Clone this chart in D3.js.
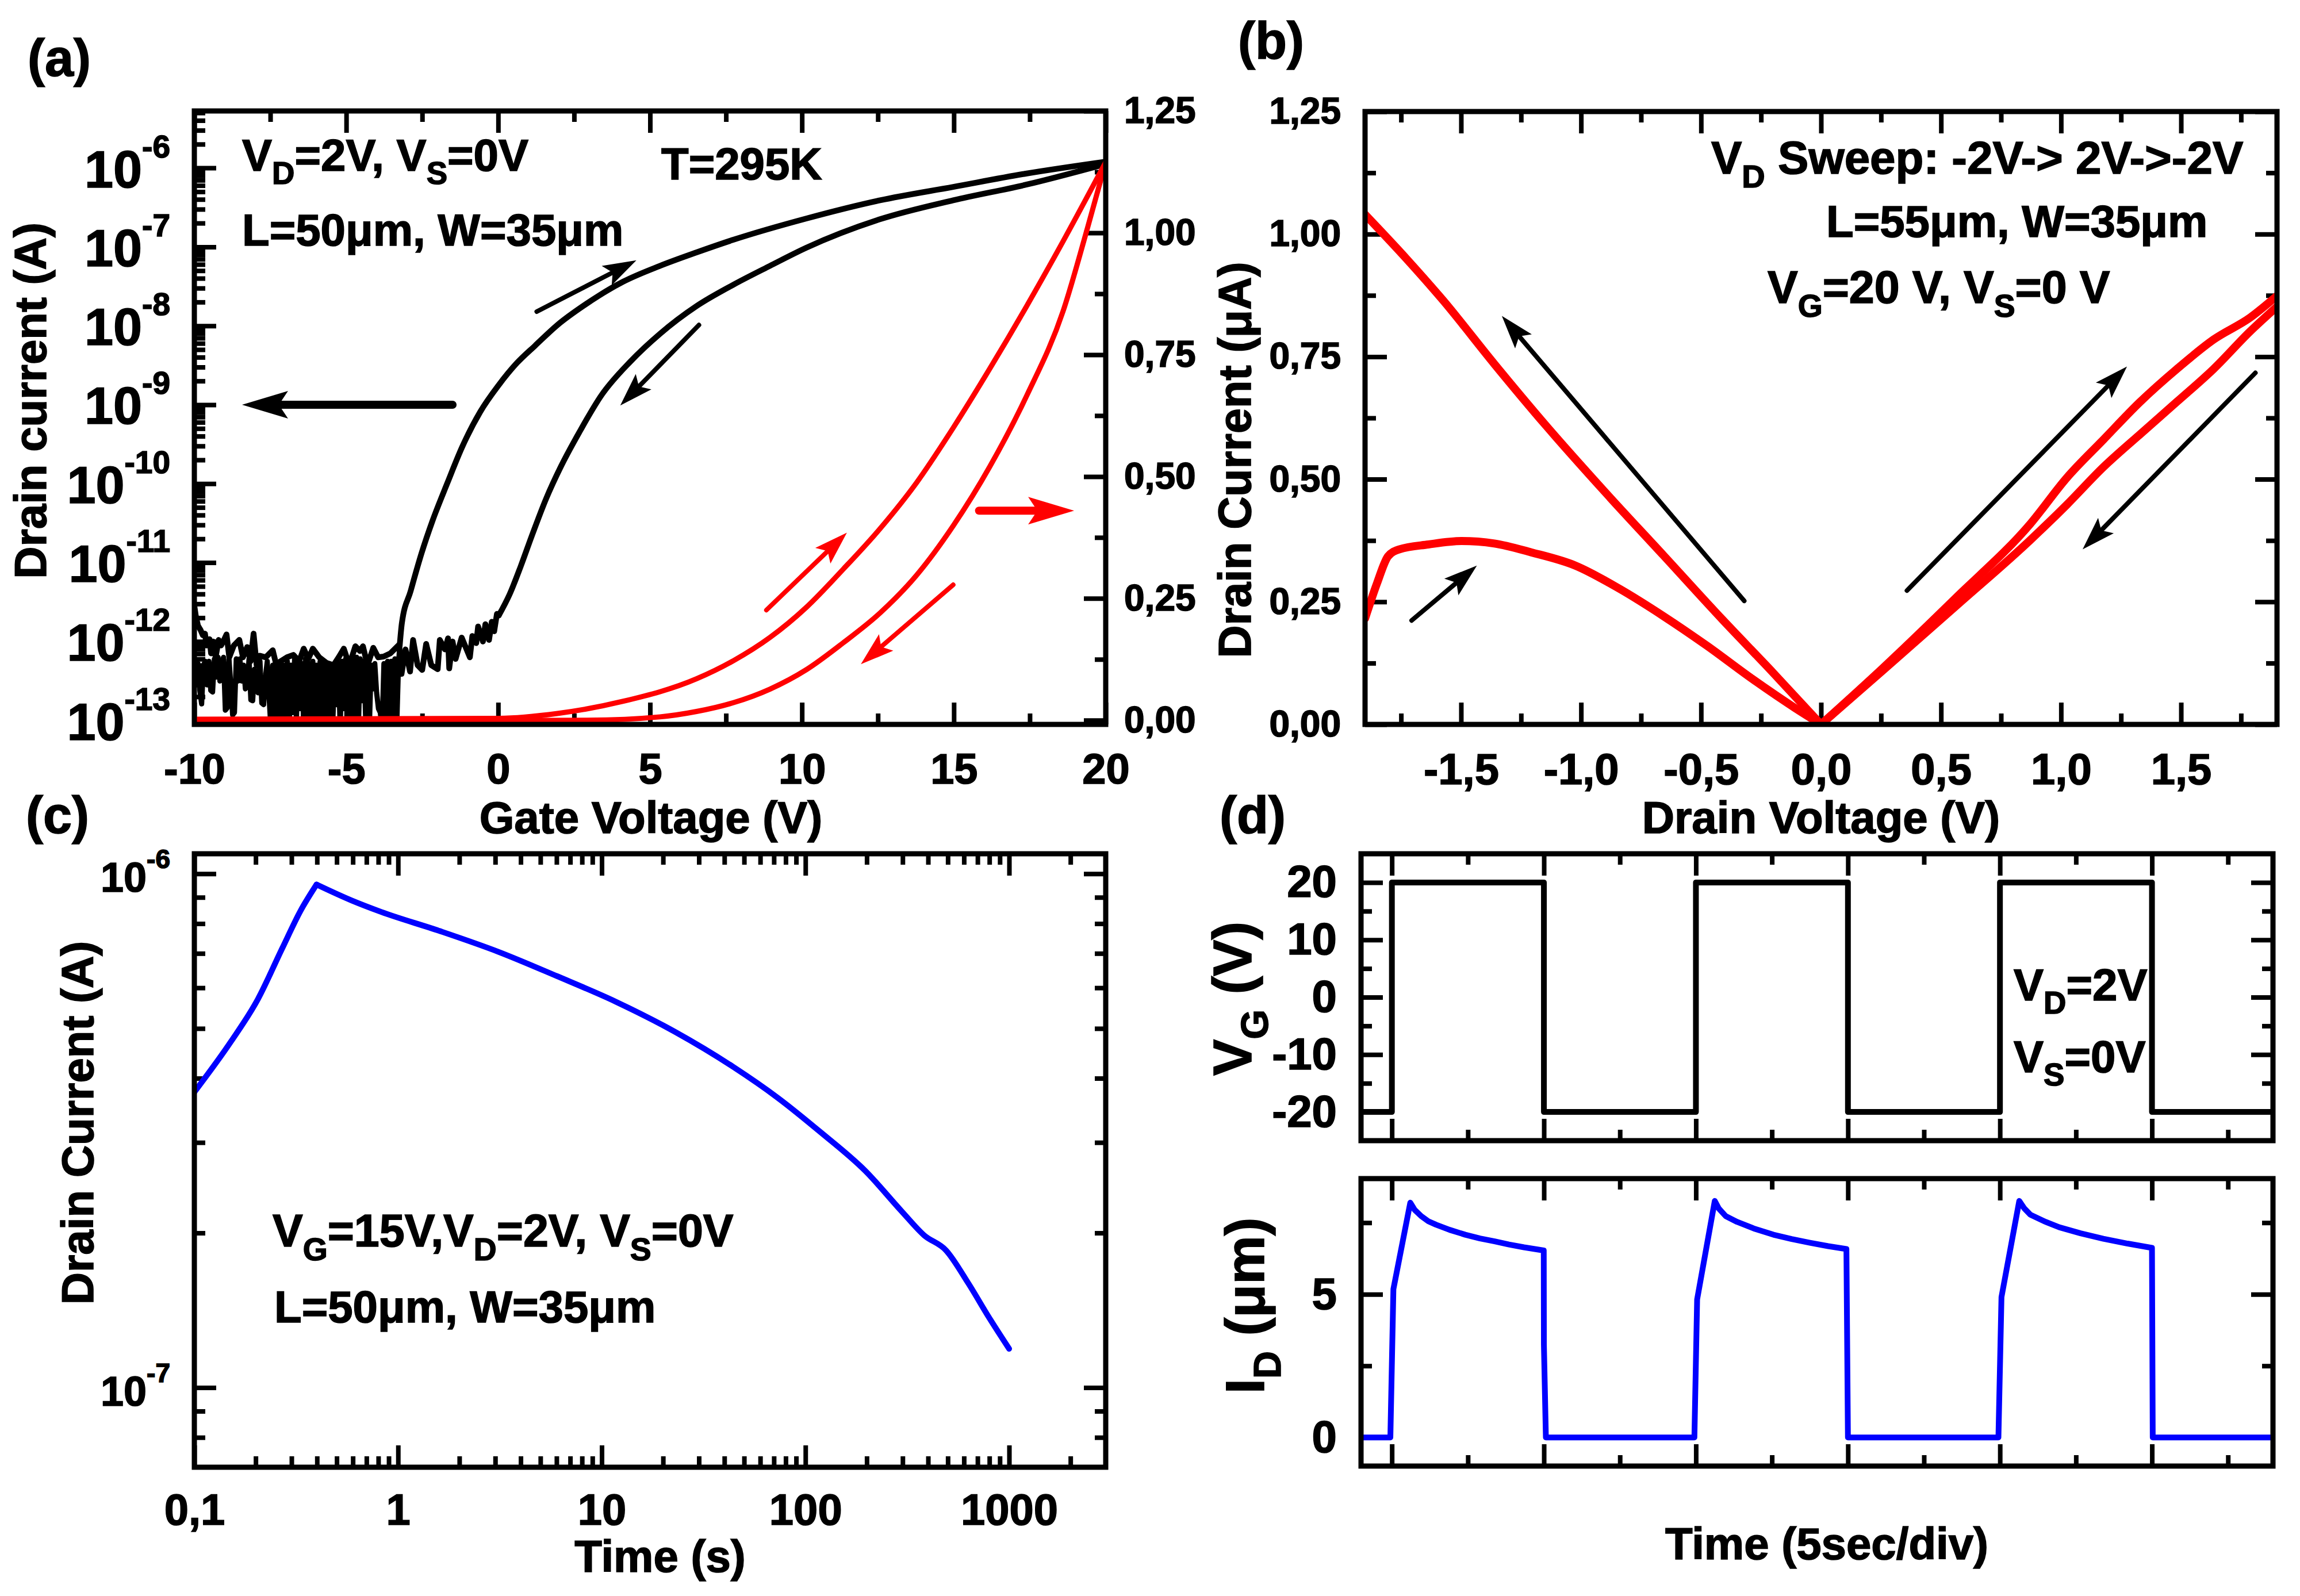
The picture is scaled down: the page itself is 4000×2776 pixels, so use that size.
<!DOCTYPE html>
<html>
<head>
<meta charset="utf-8">
<script src="https://cdn.jsdelivr.net/npm/d3@7"></script>
<style>
  html, body { margin: 0; padding: 0; background: #fff; }
  svg text { font-family: "Liberation Sans", Arial, sans-serif; font-weight: bold; fill: #000; stroke: #000; stroke-width: 1.6; }
</style>
</head>
<body>
<svg id="chart" width="4000" height="2776"></svg>
<script>
// (a) black curves: [gate voltage, log10 of drain current]
const aBlackUp = [[-3.24,-12.05],[-3.17,-11.77],[-2.88,-11.36],[-2.52,-10.88],[-2.16,-10.47],[-1.67,-9.99],[-1.19,-9.54],[-0.59,-9.09],[0.02,-8.75],[0.62,-8.47],[1.22,-8.25],[1.95,-7.99],[2.91,-7.72],[4.12,-7.44],[5.33,-7.24],[6.53,-7.07],[7.74,-6.91],[10.15,-6.64],[12.57,-6.41],[14.98,-6.24],[17.4,-6.07],[20,-5.92]];
const aBlackDown = [[0.02,-11.67],[0.38,-11.40],[0.74,-11.05],[1.1,-10.67],[1.58,-10.19],[2.07,-9.78],[2.67,-9.35],[3.4,-8.88],[4.36,-8.45],[5.33,-8.10],[6.53,-7.75],[7.74,-7.48],[8.95,-7.24],[10.15,-7.01],[12.57,-6.65],[14.98,-6.41],[17.4,-6.21],[20,-5.95]];
// noisy off-current, return sweep
const aNoiseReturn = [[-10,-11.55],[-9.95,-11.68],[-9.88,-11.8],[-9.8,-11.85],[-9.72,-11.92],[-9.65,-11.9],[-9.6,-12.05],[-9.5,-11.97],[-9.45,-12.15],[-9.38,-12.0],[-9.3,-12.2],[-9.2,-11.98],[-9.12,-12.05],[-9.05,-12.0],[-8.94,-11.91],[-8.85,-12.2],[-8.7,-12.05],[-8.52,-11.98],[-8.4,-12.2],[-8.26,-12.07],[-8.15,-12.25],[-8.05,-11.9],[-7.95,-12.3],[-7.84,-12.18],[-7.65,-12.2],[-7.42,-12.11],[-7.3,-12.3],[-7.16,-12.25],[-6.95,-12.2],[-6.74,-12.17],[-6.55,-12.25],[-6.4,-12.09],[-6.25,-12.22],[-6.1,-12.09],[-5.89,-12.2],[-5.65,-12.27],[-5.42,-12.3],[-5.25,-12.2],[-5.08,-12.09],[-4.9,-12.3],[-4.7,-12.06],[-4.55,-12.12],[-4.45,-12.06],[-4.3,-12.3],[-4.11,-12.08],[-3.95,-12.2],[-3.77,-12.19],[-3.55,-12.15],[-3.26,-12.04],[-3.18,-12.41],[-3.05,-12.1],[-2.9,-12.38],[-2.8,-11.98],[-2.65,-12.3],[-2.5,-12.36],[-2.37,-12.03],[-2.2,-12.3],[-1.99,-12.35],[-1.92,-11.98],[-1.75,-12.1],[-1.65,-11.96],[-1.61,-12.34],[-1.5,-12.0],[-1.4,-12.22],[-1.2,-11.95],[-0.93,-12.2],[-0.85,-11.93],[-0.72,-12.02],[-0.66,-11.81],[-0.5,-12.0],[-0.42,-11.78],[-0.3,-11.98],[-0.21,-11.75],[-0.13,-11.87],[-0.04,-11.65],[0.02,-11.67]];
// noisy off-current, forward sweep
const aNoiseForward = [[-10,-12.30],[-9.94,-12.55],[-9.88,-12.28],[-9.82,-12.62],[-9.76,-12.79],[-9.7,-12.3],[-9.64,-12.25],[-9.58,-12.55],[-9.52,-12.25],[-9.46,-12.62],[-9.4,-12.64],[-9.34,-12.22],[-9.28,-12.45],[-9.22,-12.2],[-9.16,-12.5],[-9.1,-12.3],[-9.04,-12.2],[-8.98,-12.87],[-8.92,-12.84],[-8.86,-12.22],[-8.8,-12.55],[-8.74,-12.93],[-8.68,-12.9],[-8.62,-12.22],[-8.56,-12.5],[-8.5,-12.22],[-8.44,-12.5],[-8.38,-12.3],[-8.32,-12.6],[-8.26,-12.55],[-8.2,-12.22],[-8.14,-12.74],[-8.08,-12.75],[-8.02,-12.35],[-7.96,-12.6],[-7.9,-12.65],[-7.84,-12.25],[-7.78,-12.78],[-7.72,-12.8],[-7.66,-12.45],[-7.6,-12.25],[-7.54,-12.7],[-7.48,-13.1],[-7.42,-12.3],[-7.36,-13.1],[-7.3,-12.28],[-7.24,-13.1],[-7.18,-12.25],[-7.12,-13.1],[-7.06,-12.3],[-7.0,-13.0],[-6.94,-12.25],[-6.88,-13.1],[-6.82,-12.3],[-6.76,-12.9],[-6.7,-12.22],[-6.64,-13.0],[-6.58,-12.25],[-6.52,-12.85],[-6.46,-12.28],[-6.4,-13.1],[-6.34,-12.22],[-6.28,-13.1],[-6.22,-12.28],[-6.16,-13.1],[-6.1,-12.25],[-6.04,-13.05],[-5.98,-12.3],[-5.92,-13.1],[-5.86,-12.25],[-5.8,-13.1],[-5.74,-12.3],[-5.68,-13.1],[-5.62,-12.33],[-5.56,-13.1],[-5.5,-12.32],[-5.44,-13.0],[-5.38,-12.33],[-5.32,-12.8],[-5.26,-12.28],[-5.2,-13.1],[-5.14,-12.25],[-5.08,-12.85],[-5.02,-12.22],[-4.96,-13.1],[-4.9,-12.25],[-4.84,-13.1],[-4.78,-12.22],[-4.72,-13.1],[-4.66,-12.2],[-4.6,-13.1],[-4.54,-12.22],[-4.48,-12.75],[-4.42,-12.25],[-4.36,-13.0],[-4.3,-12.25],[-4.24,-13.1],[-4.18,-12.3],[-4.12,-12.6],[-4.06,-12.28],[-4.0,-12.65],[-3.94,-12.85],[-3.88,-12.9],[-3.82,-13.1],[-3.76,-12.28],[-3.7,-13.1],[-3.64,-12.25],[-3.58,-13.1],[-3.52,-12.25],[-3.46,-13.1],[-3.4,-12.22],[-3.34,-13.1],[-3.28,-12.3],[-3.24,-12.05]];
// (a) red curves: [gate voltage, drain current in uA]
const aRedUp = [[-10,0.002],[0.02,0.004],[1.95,0.014],[4.12,0.039],[6.53,0.085],[7.74,0.122],[8.95,0.170],[10.15,0.232],[11.36,0.31],[12.57,0.393],[13.78,0.488],[14.98,0.60],[16.19,0.722],[17.4,0.85],[18.6,0.983],[20,1.145]];
const aRedDown = [[-10,-0.003],[2.91,0.0],[5.33,0.007],[6.53,0.018],[7.74,0.036],[8.95,0.064],[10.15,0.104],[11.36,0.159],[12.57,0.22],[13.78,0.298],[14.98,0.399],[16.19,0.521],[17.4,0.666],[18.6,0.84],[19.4,1.01],[20,1.145]];
const aExponents = [-6,-7,-8,-9,-10,-11,-12,-13];

// (b) hysteresis branches: [drain voltage, drain current in uA]
const bNegOut = [[-1.9,0.216],[-1.85,0.288],[-1.804,0.343],[-1.758,0.357],[-1.636,0.367],[-1.498,0.374],[-1.361,0.369],[-1.208,0.351],[-1.024,0.324],[-0.841,0.277],[-0.657,0.221],[-0.474,0.160],[-0.29,0.094],[-0.107,0.033],[0,0]];
const bNegBack = [[-1.9,1.04],[-1.728,0.95],[-1.575,0.865],[-1.361,0.735],[-1.147,0.61],[-0.902,0.475],[-0.657,0.345],[-0.413,0.215],[-0.199,0.105],[0,0]];
const bPosUp = [[0,0],[0.26,0.116],[0.566,0.26],[0.872,0.409],[1.024,0.503],[1.177,0.581],[1.33,0.658],[1.483,0.725],[1.636,0.785],[1.789,0.83],[1.9,0.874]];
const bPosDown = [[0,0],[0.26,0.111],[0.566,0.243],[0.872,0.376],[1.024,0.448],[1.177,0.525],[1.33,0.592],[1.483,0.658],[1.636,0.725],[1.789,0.802],[1.9,0.852]];

// (c) decay curve, split at the peak
const cRiseTime = [0.1,0.151,0.205,0.27,0.332,0.398];
const cRiseCurrent = [3.76e-7,4.71e-7,5.70e-7,7.16e-7,8.47e-7,9.53e-7];
const cFallTime = [0.398,0.593,0.826,1.6,3.11,6.04,11.7,22.8,44.2,72.8,120,197,298,382,490,628,805,1000];
const cFallCurrent = [9.53e-7,8.87e-7,8.43e-7,7.74e-7,7.05e-7,6.32e-7,5.64e-7,4.93e-7,4.21e-7,3.67e-7,3.13e-7,2.64e-7,2.2e-7,1.98e-7,1.85e-7,1.60e-7,1.36e-7,1.19e-7];
const cTickValues = [0.1,1,10,100,1000];
const cTickLabels = ["0,1","1","10","100","1000"];

// (d) gate pulses and drain current response
const dGateTime = [-2.03,0,0,10,10,20,20,30,30,40,40,50,50,57.96];
const dGateVolt = [-20,-20,20,20,-20,-20,20,20,-20,-20,20,20,-20,-20];
const dDrainTime = [-2.03,-0.1,0.1,1.21,1.5,1.93,2.4,2.9,3.8,4.83,5.8,6.76,7.7,8.69,9.99,10,10.13,19.9,20.08,21.24,21.5,21.96,22.7,23.8,25.1,26.3,27.5,28.7,29.9,30,30.1,39.9,40.1,41.27,41.6,42,43,43.9,45.3,46.8,48.4,50,50.05,57.96];
const dDrainCurr = [0,0,5.18,8.2,7.95,7.73,7.55,7.43,7.25,7.08,6.95,6.85,6.74,6.64,6.53,3.24,0,0,4.82,8.26,8.0,7.73,7.53,7.3,7.08,6.93,6.8,6.68,6.58,0,0,0,4.9,8.26,8.0,7.78,7.53,7.34,7.13,6.94,6.77,6.62,0,0];

// annotation arrows in data units: [x0, y0, x1, y1]
const aArrowsLog = [[1.27,-7.82,4.55,-7.17],[6.61,-7.99,4.02,-9.01]];
const aArrowBig = [-1.5,-9.0,-8.43,-9.0];
const aArrowsRed = [[8.83,0.226,11.48,0.385],[14.98,0.278,11.94,0.115]];
const aArrowRedBig = [15.83,0.43,18.96,0.43];
const bArrows = [[-0.32,0.252,-1.33,0.833],[0.358,0.273,1.275,0.73],[1.81,0.717,1.09,0.357],[-1.706,0.212,-1.434,0.324]];

const svg = d3.select("#chart");
svg.append("rect").attr("width", 4000).attr("height", 2776).attr("fill", "#fff");

const MAJOR = 38, MINOR = 19, AXIS_W = 8;
const commaTick = v => d3.format(".2f")(v).replace(".", ",");
const oneDec = v => d3.format(".1f")(v).replace(".", ",").replace("\u2212", "-");
const range = (a, b, s) => d3.range(a, b + s / 2, s);
const logMinors = (from, to) => {
  const out = [];
  for (let e = from; e < to; e++) for (let m = 2; m < 10; m++) out.push(m * Math.pow(10, e));
  return out;
};

// draws major + minor inward ticks on one side, labels only when fmt is given
function ticks(side, x, y, major, minor, fmt, size, pad) {
  const scale = (side === "left" || side === "right") ? y : x;
  const gen = { left: d3.axisLeft, right: d3.axisRight, top: d3.axisTop, bottom: d3.axisBottom }[side];
  const pos = {
    left: [x.range()[0], 0], right: [x.range()[1], 0],
    top: [0, y.range()[1]], bottom: [0, y.range()[0]]
  }[side];
  const g = svg.append("g").attr("transform", `translate(${pos[0]},${pos[1]})`);

  g.append("g").call(gen(scale).tickValues(minor).tickSize(-MINOR).tickSizeOuter(0).tickFormat(""));
  const majorG = g.append("g").call(gen(scale).tickValues(major).tickSize(-MAJOR).tickSizeOuter(0)
    .tickPadding(pad || 0).tickFormat(fmt || ""));
  g.selectAll(".domain").remove();
  g.selectAll("line").attr("stroke", "#000").attr("stroke-width", AXIS_W);
  if (fmt) majorG.selectAll("text").attr("font-size", size).attr("fill", "#000");
  return majorG;
}

function frame(x, y) {
  svg.append("rect")
    .attr("x", x.range()[0]).attr("y", y.range()[1])
    .attr("width", x.range()[1] - x.range()[0]).attr("height", y.range()[0] - y.range()[1])
    .attr("fill", "none").attr("stroke", "#000").attr("stroke-width", 9);
}

let clipId = 0;
function clipFor(x, y) {
  const id = "clip" + (clipId++);
  svg.append("clipPath").attr("id", id).append("rect")
    .attr("x", x.range()[0]).attr("y", y.range()[1])
    .attr("width", x.range()[1] - x.range()[0]).attr("height", y.range()[0] - y.range()[1]);
  return `url(#${id})`;
}

function curve(data, x, y, color, width, clip, shape) {
  svg.append("path").datum(data)
    .attr("fill", "none").attr("stroke", color).attr("stroke-width", width)
    .attr("stroke-linejoin", "round").attr("stroke-linecap", "round")
    .attr("clip-path", clip)
    .attr("d", d3.line().x(d => x(d[0])).y(d => y(d[1])).curve(shape || d3.curveLinear));
}

// text with _X single letter subscripts
function label(str, px, py, size, opts) {
  const o = opts || {};
  const t = svg.append("text").attr("font-size", size)
    .attr("text-anchor", o.anchor || "start")
    .attr("transform", `translate(${px},${py})${o.rotate ? " rotate(-90)" : ""}`);
  const subSize = size * 0.7, drop = size * 0.3;
  let pendingDy = 0;
  str.split(/(_.)/).forEach(part => {
    if (!part) return;
    if (part[0] === "_") {
      t.append("tspan").attr("font-size", subSize).attr("dy", drop).text(part[1]);
      pendingDy = -drop;
    } else {
      t.append("tspan").attr("dy", pendingDy).text(part);
      pendingDy = 0;
    }
  });
  return t;
}

function arrow(a, x, y, color, width, headLen, headW) {
  const x0 = x(a[0]), y0 = y(a[1]), x1 = x(a[2]), y1 = y(a[3]);
  const ang = Math.atan2(y1 - y0, x1 - x0);
  const ux = Math.cos(ang), uy = Math.sin(ang);
  const bx = x1 - ux * headLen, by = y1 - uy * headLen;
  const nx = x1 - ux * headLen * 0.8, ny = y1 - uy * headLen * 0.8;
  svg.append("line").attr("x1", x0).attr("y1", y0).attr("x2", nx).attr("y2", ny)
    .attr("stroke", color).attr("stroke-width", width).attr("stroke-linecap", "round");
  svg.append("path")
    .attr("d", `M${x1},${y1}L${bx - uy * headW / 2},${by + ux * headW / 2}L${nx},${ny}L${bx + uy * headW / 2},${by - ux * headW / 2}Z`)
    .attr("fill", color);
}

// exponent tick labels (10 with a raised power)
function powerLabels(g, exps, size, supSize, rise, drop) {
  g.selectAll(".tick text").each(function (d, i) {
    const t = d3.select(this).text(null).attr("font-size", size).attr("dy", drop);
    t.append("tspan").text("10");
    t.append("tspan").attr("font-size", supSize).attr("dy", -rise).text(exps[i]);
  });
}

const smooth = d3.curveMonotoneX;

// ---------- panel (a) ----------
{
  const x = d3.scaleLinear().domain([-10, 20]).range([338, 1923]);
  const yLog = d3.scaleLinear().domain([-13.05, -5.278]).range([1260, 193]);
  const yPow = d3.scaleLog().domain([Math.pow(10, -13.05), Math.pow(10, -5.278)]).range([1260, 193]);
  const yLin = d3.scaleLinear().domain([-0.0085, 1.25]).range([1260, 193]);
  const clip = clipFor(x, yLog);

  const xMinor = range(-7.5, 17.5, 5);
  ticks("bottom", x, yLog, range(-10, 20, 5), xMinor, d => d, 74, 50);
  ticks("top", x, yLog, range(-10, 20, 5), xMinor);
  const exps = aExponents.map(e => Math.pow(10, e));
  const left = ticks("left", x, yPow, exps, logMinors(-13, -5).filter(v => v < Math.pow(10, -5.278)), d => d, 90, 42);
  powerLabels(left, aExponents, 90, 55, 52, 33);
  ticks("right", x, yLin, range(0, 1.25, 0.25), range(0.125, 1.125, 0.25), commaTick, 64, 32);

  curve(aNoiseForward, x, yLog, "#000", 9, clip);
  curve(aNoiseReturn, x, yLog, "#000", 10, clip);
  curve(aBlackUp, x, yLog, "#000", 10, clip, smooth);
  curve(aBlackDown, x, yLog, "#000", 10, clip, smooth);
  curve(aRedUp, x, yLin, "#f00", 9, clip, smooth);
  curve(aRedDown, x, yLin, "#f00", 9, clip, smooth);
  frame(x, yLog);

  aArrowsLog.forEach(a => arrow(a, x, yLog, "#000", 8, 58, 38));
  arrow(aArrowBig, x, yLog, "#000", 14, 80, 48);
  aArrowsRed.forEach(a => arrow(a, x, yLin, "#f00", 8, 58, 38));
  arrow(aArrowRedBig, x, yLin, "#f00", 14, 80, 48);

  label("V_D=2V, V_S=0V", 421, 297, 78);
  label("T=295K", 1150, 312, 78);
  label("L=50\u03BCm, W=35\u03BCm", 421, 427, 78);
  label("Drain current (A)", 80, 697, 78, { rotate: true, anchor: "middle" });
  label("Gate Voltage (V)", 1132, 1449, 78, { anchor: "middle" });
  label("(a)", 48, 132, 90);
  label("(c)", 45, 1449, 90);
}

// ---------- panel (b) ----------
{
  const x = d3.scaleLinear().domain([-1.9, 1.9]).range([2374, 3960]);
  const y = d3.scaleLinear().domain([0, 1.25]).range([1260, 194]);
  const clip = clipFor(x, y);

  const xMajor = range(-1.5, 1.5, 0.5), xMinor = range(-1.75, 1.75, 0.5);
  ticks("bottom", x, y, xMajor, xMinor, oneDec, 76, 50);
  ticks("top", x, y, xMajor, xMinor);
  ticks("left", x, y, range(0, 1.25, 0.25), range(0.125, 1.125, 0.25), commaTick, 64, 42);
  ticks("right", x, y, range(0, 1.25, 0.25), range(0.125, 1.125, 0.25));

  [bNegOut, bNegBack, bPosUp, bPosDown].forEach(c => curve(c, x, y, "#f00", 14, clip, smooth));
  frame(x, y);

  bArrows.forEach(a => arrow(a, x, y, "#000", 8, 58, 38));

  label("V_D Sweep: -2V-> 2V->-2V", 2976, 302, 80);
  label("L=55\u03BCm, W=35\u03BCm", 3176, 412, 78);
  label("V_G=20 V, V_S=0 V", 3074, 527, 79);
  label("Drain Current (\u03BCA)", 2175, 800, 79, { rotate: true, anchor: "middle" });
  label("Drain Voltage (V)", 3167, 1449, 78, { anchor: "middle" });
  label("(b)", 2153, 102, 90);
  label("(d)", 2121, 1449, 90);
}

// ---------- panel (c) ----------
{
  const x = d3.scaleLog().domain([0.1, 2980]).range([338, 1923]);
  const y = d3.scaleLog().domain([7.0e-8, 1.094e-6]).range([2552, 1485]);
  const clip = clipFor(x, y);

  const xMinor = logMinors(-1, 3).concat([2000]);
  const bottom = ticks("bottom", x, y, cTickValues, xMinor, d => d, 76, 46);
  bottom.selectAll(".tick text").text((d, i) => cTickLabels[i]);
  ticks("top", x, y, cTickValues, xMinor);
  const yMajor = [1e-6, 1e-7];
  const yMinor = [9e-7, 8e-7, 7e-7, 6e-7, 5e-7, 4e-7, 3e-7, 2e-7, 9e-8, 8e-8];
  const left = ticks("left", x, y, yMajor, yMinor, d => d, 72, 42);
  powerLabels(left, [-6, -7], 72, 46, 41, 31);
  ticks("right", x, y, yMajor, yMinor);

  curve(cRiseTime.map((t, i) => [t, cRiseCurrent[i]]), x, y, "#00f", 10, clip, smooth);
  curve(cFallTime.map((t, i) => [t, cFallCurrent[i]]), x, y, "#00f", 10, clip, smooth);
  frame(x, y);

  label("V_G=15V,V_D=2V, V_S=0V", 474, 2168, 79);
  label("L=50\u03BCm, W=35\u03BCm", 477, 2300, 78);
  label("Drain Current (A)", 162, 1953, 78, { rotate: true, anchor: "middle" });
  label("Time (s)", 1148, 2734, 78, { anchor: "middle" });
}

// ---------- panel (d) ----------
{
  const x = d3.scaleLinear().domain([-2.03, 57.96]).range([2367, 3953]);
  const yG = d3.scaleLinear().domain([-25, 25]).range([1984, 1485]);
  const yD = d3.scaleLinear().domain([-1, 9.04]).range([2550, 2050]);
  const xMajor = range(0, 50, 10), xMinor = range(5, 55, 10);
  const clipG = clipFor(x, yG), clipD = clipFor(x, yD);

  ticks("bottom", x, yG, xMajor, xMinor);
  ticks("top", x, yG, xMajor, xMinor);
  ticks("left", x, yG, range(-20, 20, 10), range(-15, 15, 10), d => d, 78, 42);
  ticks("right", x, yG, range(-20, 20, 10), range(-15, 15, 10));
  curve(dGateTime.map((t, i) => [t, dGateVolt[i]]), x, yG, "#000", 10, clipG);
  frame(x, yG);

  ticks("bottom", x, yD, xMajor, xMinor);
  ticks("top", x, yD, xMajor, xMinor);
  ticks("left", x, yD, [0, 5], [2.5, 7.5], d => d, 78, 42);
  ticks("right", x, yD, [0, 5], [2.5, 7.5]);
  curve(dDrainTime.map((t, i) => [t, dDrainCurr[i]]), x, yD, "#00f", 10, clipD);
  frame(x, yD);

  label("V_D=2V", 3502, 1740, 78);
  label("V_S=0V", 3502, 1865, 78);
  label("V_G (V)", 2176, 1737, 95, { rotate: true, anchor: "middle" });
  label("I_D (\u03BCm)", 2198, 2271, 95, { rotate: true, anchor: "middle" });
  label("Time (5sec/div)", 3177, 2712, 78, { anchor: "middle" });
}
</script>
</body>
</html>
